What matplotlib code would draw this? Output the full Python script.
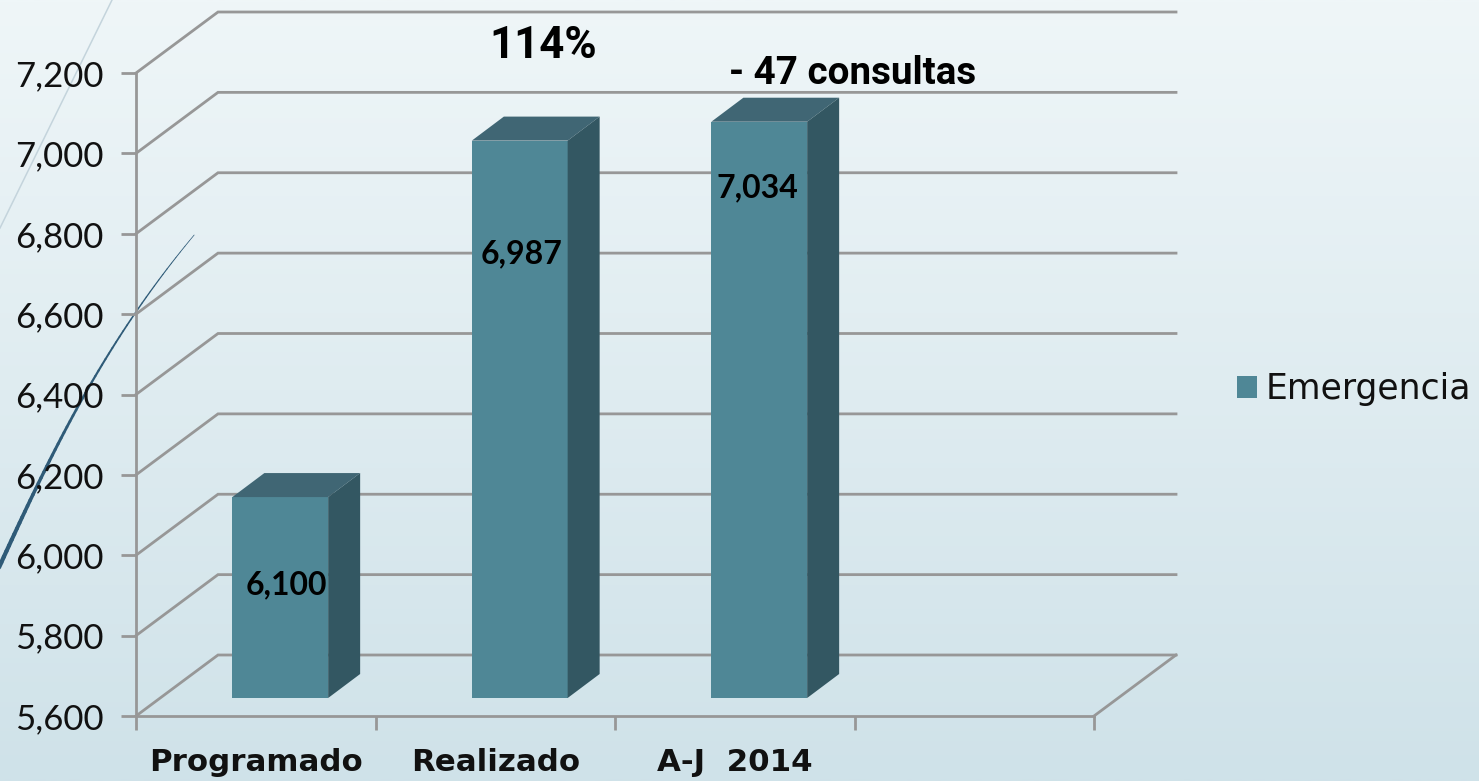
import numpy as np
import matplotlib
matplotlib.use("Agg")
import matplotlib.pyplot as plt
from matplotlib.patches import Polygon
from matplotlib.transforms import Affine2D
from matplotlib.ticker import FuncFormatter

categories = ["Programado", "Realizado", "A-J  2014", ""]
values = [6100, 6987, 7034]
series_name = "Emergencia"
y_ticks = [5600, 5800, 6000, 6200, 6400, 6600, 6800, 7000, 7200]
note_pct = "114%"
note_diff = "- 47 consultas"

W, H = 1479, 781
fig = plt.figure(figsize=(W / 100, H / 100), dpi=100)

def box(l, t, r, b):
    return [l / W, 1 - b / H, (r - l) / W, (b - t) / H]

# background gradient
bg = fig.add_axes([0, 0, 1, 1], zorder=0)
bg.set_axis_off()
top, bot = np.array([0xef, 0xf6, 0xf8]) / 255, np.array([0xcf, 0xe2, 0xe9]) / 255
g = np.linspace(0, 1, 256)[:, None, None]
bg.imshow(top + (bot - top) * g, aspect="auto", extent=[0, W, H, 0], interpolation="bilinear")
bg.set_xlim(0, W); bg.set_ylim(H, 0)

# decorative swooshes
bg.plot([112, 0], [0, 228], color="#c4d4dc", lw=1.1)
swoosh_y = np.linspace(235, 568, 60)
swoosh_x = np.polyval(np.polyfit([235, 262, 312, 372, 440, 500, 540, 568],
                                 [196, 170, 135, 100, 60, 30, 10, 0], 3), swoosh_y)
for i in range(len(swoosh_y) - 1):
    bg.plot(swoosh_x[i:i + 2], swoosh_y[i:i + 2], color="#2f5b78",
            lw=0.5 + i * 0.045, solid_capstyle="round")

# main axes: front plane of the 3D box
ax = fig.add_axes(box(136, 73, 1094, 716), zorder=1)
ax.patch.set_alpha(0)
ax.set_xlim(0, 4)
ax.set_ylim(5600, 7200)

GRID = "#979797"
DX, DY = 82, 61     # wall depth in px
BDX, BDY = 32, 24   # bar depth in px
OX, OY = 24.5, 18   # bar offset from front plane

def shift(dx, dy):
    return ax.transData + Affine2D().translate(dx, dy)

for s in ["top", "right"]:
    ax.spines[s].set_visible(False)
for s in ["left", "bottom"]:
    ax.spines[s].set_color(GRID)
    ax.spines[s].set_linewidth(2.0)

# walls
for v in y_ticks:
    xa, ya = ax.transData.transform((0, v))
    xb, yb = ax.transData.transform((4, v))
    ax.plot([xa, xa + DX, xb + DX], [ya, ya + DY, ya + DY], color=GRID, lw=2.0,
            transform=None, clip_on=False, zorder=1, solid_joinstyle="miter")
xb, yb = ax.transData.transform((4, 5600))
ax.plot([xb, xb + DX], [yb, yb + DY], color=GRID, lw=2.0, transform=None, clip_on=False, zorder=1)

# bars
FRONT, TOPC, SIDE = "#4f8796", "#406674", "#335762"
bar_w = 0.4
bars = ax.bar(np.arange(len(values)) + 0.5, np.array(values) - 5600, bar_w, bottom=5600,
              color=FRONT, transform=shift(OX, OY), clip_on=False, zorder=3, label=series_name)
tf = ax.transData
for i, v in enumerate(values):
    x0, x1 = i + 0.5 - bar_w / 2, i + 0.5 + bar_w / 2
    (ax0, ay0), (ax1, ay1) = tf.transform((x0, 5600)), tf.transform((x1, v))
    ax0 += OX; ax1 += OX; ay0 += OY; ay1 += OY
    ax.add_patch(Polygon([(ax0, ay1), (ax1, ay1), (ax1 + BDX, ay1 + BDY), (ax0 + BDX, ay1 + BDY)],
                         closed=True, fc=TOPC, ec="none", transform=None, clip_on=False, zorder=3))
    ax.add_patch(Polygon([(ax1, ay0), (ax1 + BDX, ay0 + BDY), (ax1 + BDX, ay1 + BDY), (ax1, ay1)],
                         closed=True, fc=SIDE, ec="none", transform=None, clip_on=False, zorder=3))

# ticks
ax.set_yticks(y_ticks)
ax.yaxis.set_major_formatter(FuncFormatter(lambda v, _: f"{int(v):,}"))
ax.tick_params(axis="y", length=10.5, width=2.0, color=GRID, pad=13, labelsize=25, labelcolor="#111111")
for t in ax.get_yticklabels():
    t.set_fontfamily("Lato")
ax.set_xticks(range(5))
ax.set_xticklabels([])
ax.set_xticks(np.arange(4) + 0.5, minor=True)
ax.set_xticklabels(categories, minor=True, fontfamily="DejaVu Sans", fontweight="bold",
                   fontsize=22.2, color="#111111")
ax.tick_params(axis="x", which="major", length=10, width=2.0, color=GRID, direction="out")
ax.tick_params(axis="x", which="minor", length=0, pad=23)

# data labels
label_dx = [31, 26, 23]
label_y = [585, 254, 188]
for i, v in enumerate(values):
    ax.annotate(f"{v:,}", xy=(i + 0.5, v), xycoords="data",
                xytext=(ax.transData.transform((i + 0.5, 0))[0] + label_dx[i], H - label_y[i]),
                textcoords="figure pixels", ha="center", va="center",
                fontsize=23, fontweight="bold", fontfamily="Lato", color="black", zorder=5)

fig.text(543 / W, 1 - 46 / H, note_pct, ha="center", va="center", fontsize=31.5,
         fontweight="bold", fontfamily="Roboto", color="black", zorder=6)
fig.text(853 / W, 1 - 74 / H, note_diff, ha="center", va="center", fontsize=27.8,
         fontweight="bold", fontfamily="Roboto", color="black", zorder=6)

fig.legend(handles=[bars], labels=[series_name], loc="center left",
           bbox_to_anchor=(1237 / W, 1 - 389 / H), frameon=False,
           prop={"family": "DejaVu Sans", "size": 24.9}, handlelength=0.58, handleheight=0.58,
           handletextpad=0.26, labelcolor="#111111", borderaxespad=0, borderpad=0)

fig.savefig("out.png", dpi=100)
